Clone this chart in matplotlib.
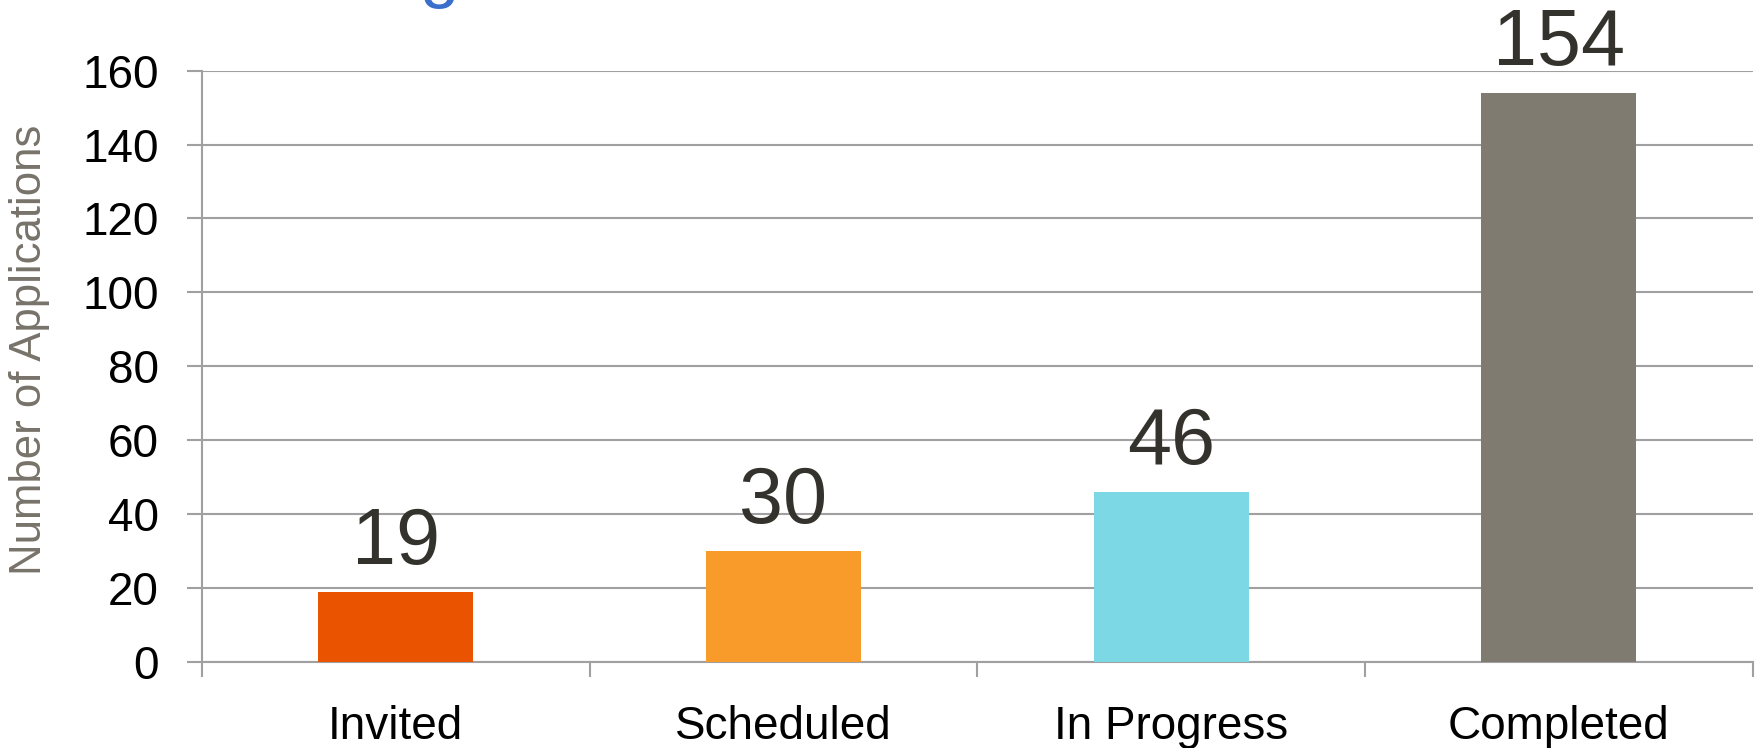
import matplotlib
matplotlib.use("Agg")
import matplotlib.pyplot as plt

# chart data
categories = ['Invited', 'Scheduled', 'In Progress', 'Completed']
counts = [19, 30, 46, 154]
bar_colors = ['#EA5300', '#F99B2A', '#7DD8E6', '#807B70']
y_ticks = [0, 20, 40, 60, 80, 100, 120, 140, 160]

plt.rcParams['font.family'] = ['Liberation Sans', 'DejaVu Sans']

fig = plt.figure(figsize=(17.58, 7.48), dpi=100)
ax = fig.add_axes([0.1148, 0.1154, 0.8822, 0.7901])

x = range(len(categories))
ax.bar(x, counts, width=0.4, color=bar_colors, zorder=3)

for xi, v in zip(x, counts):
    ax.annotate(str(v), (xi, v), xytext=(0, 20), textcoords='offset points',
                ha='center', va='baseline', fontsize=57, color='#33322C')

ax.set_xlim(-0.5, len(categories) - 0.5)
ax.set_ylim(0, 160)
ax.set_yticks(y_ticks)
ax.set_yticklabels([str(t) for t in y_ticks], fontsize=33)

# category labels between boundary ticks
ax.set_xticks([i - 0.5 for i in range(len(categories) + 1)])
ax.set_xticklabels([])
ax.set_xticks(list(x), minor=True)
ax.set_xticklabels(categories, minor=True, fontsize=33)
ax.tick_params(axis='x', which='minor', length=0, pad=31)
ax.tick_params(axis='x', which='major', length=11, width=1.5, color='#A0A0A0')
ax.tick_params(axis='y', length=11, width=1.5, color='#A0A0A0', pad=20)

ax.yaxis.grid(True, color='#A0A0A0', linewidth=1.5, zorder=0)
for side in ['top', 'right']:
    ax.spines[side].set_visible(False)
for side in ['left', 'bottom']:
    ax.spines[side].set_color('#A0A0A0')
    ax.spines[side].set_linewidth(1.5)

ax.set_ylabel('Number of Applications', fontsize=31.5, color='#77736A')
ax.yaxis.set_label_coords(-0.0976, 0.527)

# cut-off title fragment at the top edge
fig.text(0.25, 1.008, 'g', fontsize=51, color='#3A6FCC', ha='center', va='baseline')

fig.savefig('out.png', dpi=100)
